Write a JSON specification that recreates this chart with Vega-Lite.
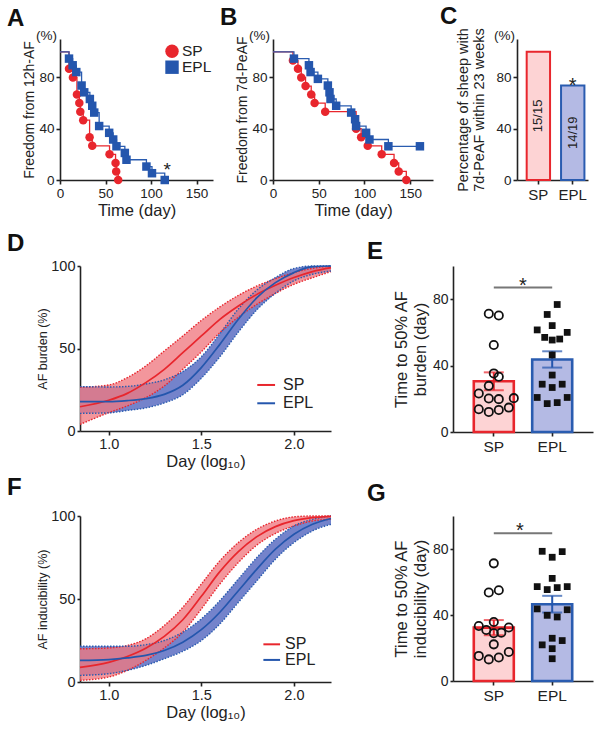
{
 "$schema": "https://vega.github.io/schema/vega-lite/v6.json",
 "padding": {"left": 5, "top": 4, "right": 4, "bottom": 4},
 "background": "white",
 "spacing": 13,
 "config": {
  "font": "Liberation Sans",
  "view": {"stroke": null},
  "axis": {"domainColor": "#222", "domainWidth": 1.6, "tickColor": "#222", "tickWidth": 1.6, "tickSize": 4, "labelColor": "#222", "titleColor": "#222", "titleFontWeight": "normal", "grid": false, "labelPadding": 2, "titlePadding": 3, "labelFlush": false, "labelOverlap": false, "labelFontSize": 14, "titleFontSize": 15},
  "title": {"color": "#111", "fontWeight": "bold", "fontSize": 24, "anchor": "start", "frame": "group", "baseline": "alphabetic"}
 },
 "datasets": {
  "kmA": [
   {"g":"SP","t":0,"s":100},{"g":"SP","t":9.9,"s":86.7},{"g":"SP","t":14.2,"s":80},{"g":"SP","t":18.6,"s":66.7},{"g":"SP","t":21.2,"s":60},{"g":"SP","t":22.3,"s":53.3},{"g":"SP","t":25.5,"s":46.7},{"g":"SP","t":32.5,"s":33.3},{"g":"SP","t":35.4,"s":26.7},{"g":"SP","t":54.4,"s":20},{"g":"SP","t":61,"s":13.3},{"g":"SP","t":61.7,"s":6.7},{"g":"SP","t":63.9,"s":0},
   {"g":"EPL","t":0,"s":100},{"g":"EPL","t":9.9,"s":94.7},{"g":"EPL","t":13.9,"s":89.5},{"g":"EPL","t":17.9,"s":84.2},{"g":"EPL","t":23.7,"s":73.7},{"g":"EPL","t":26.6,"s":68.4},{"g":"EPL","t":32.8,"s":63.2},{"g":"EPL","t":35.4,"s":57.9},{"g":"EPL","t":37.6,"s":52.6},{"g":"EPL","t":43,"s":42.1},{"g":"EPL","t":54,"s":36.8},{"g":"EPL","t":58.4,"s":31.6},{"g":"EPL","t":62,"s":26.3},{"g":"EPL","t":71.2,"s":21.1},{"g":"EPL","t":73,"s":15.8},{"g":"EPL","t":94.9,"s":10.5},{"g":"EPL","t":101,"s":5.3},{"g":"EPL","t":115,"s":0}
  ],
  "kmB": [
   {"g":"SP","t":0,"s":100},{"g":"SP","t":21.8,"s":93.3},{"g":"SP","t":27.3,"s":86.7},{"g":"SP","t":30.9,"s":80},{"g":"SP","t":35.6,"s":73.3},{"g":"SP","t":41.8,"s":66.7},{"g":"SP","t":45.5,"s":60},{"g":"SP","t":57.1,"s":53.3},{"g":"SP","t":90.9,"s":40},{"g":"SP","t":96.4,"s":33.3},{"g":"SP","t":103.6,"s":26.7},{"g":"SP","t":118.9,"s":20},{"g":"SP","t":132.4,"s":13.3},{"g":"SP","t":137.5,"s":6.7},{"g":"SP","t":145.8,"s":0},
   {"g":"EPL","t":0,"s":100},{"g":"EPL","t":22.9,"s":94.7},{"g":"EPL","t":39.3,"s":89.5},{"g":"EPL","t":41.1,"s":84.2},{"g":"EPL","t":49.1,"s":78.9},{"g":"EPL","t":60,"s":73.7},{"g":"EPL","t":61.8,"s":68.4},{"g":"EPL","t":62.9,"s":63.2},{"g":"EPL","t":69.1,"s":57.9},{"g":"EPL","t":85.5,"s":52.6},{"g":"EPL","t":89.8,"s":47.4},{"g":"EPL","t":90.9,"s":42.1},{"g":"EPL","t":101.8,"s":36.8},{"g":"EPL","t":105.5,"s":31.6},{"g":"EPL","t":126.2,"s":26.3},{"g":"EPL","t":160.7,"s":26.3}
  ],
  "curD": [
   {"g":"SP","x":0.845,"fit":14.7,"lo":4,"hi":26.5},{"g":"SP","x":1.0,"fit":18.6,"lo":11.1,"hi":27.9},{"g":"SP","x":1.1,"fit":22.8,"lo":15.2,"hi":32.3},{"g":"SP","x":1.2,"fit":29.3,"lo":20.2,"hi":39.4},{"g":"SP","x":1.3,"fit":37.4,"lo":27.3,"hi":48.5},{"g":"SP","x":1.4,"fit":47.5,"lo":37.4,"hi":57.6},{"g":"SP","x":1.5,"fit":57.6,"lo":48,"hi":67},{"g":"SP","x":1.6,"fit":67.7,"lo":59.6,"hi":75.2},{"g":"SP","x":1.7,"fit":75.8,"lo":69,"hi":82.2},{"g":"SP","x":1.8,"fit":82.8,"lo":76.8,"hi":87.9},{"g":"SP","x":1.9,"fit":88.3,"lo":83.4,"hi":92.3},{"g":"SP","x":2.0,"fit":93,"lo":88.9,"hi":96},{"g":"SP","x":2.1,"fit":96.6,"lo":92.9,"hi":98.6},{"g":"SP","x":2.2,"fit":99,"lo":96.6,"hi":100},
   {"g":"EPL","x":0.845,"fit":17.8,"lo":10.7,"hi":26.9},{"g":"EPL","x":1.0,"fit":17.8,"lo":11,"hi":26.7},{"g":"EPL","x":1.1,"fit":18.4,"lo":12.5,"hi":27},{"g":"EPL","x":1.2,"fit":19.6,"lo":14,"hi":28.5},{"g":"EPL","x":1.3,"fit":22.2,"lo":17,"hi":31},{"g":"EPL","x":1.4,"fit":27.7,"lo":22,"hi":36},{"g":"EPL","x":1.5,"fit":38.4,"lo":32,"hi":45},{"g":"EPL","x":1.6,"fit":52.5,"lo":45,"hi":59},{"g":"EPL","x":1.7,"fit":67.7,"lo":60,"hi":74},{"g":"EPL","x":1.8,"fit":80.8,"lo":73.5,"hi":85.5},{"g":"EPL","x":1.9,"fit":89.9,"lo":83.5,"hi":93},{"g":"EPL","x":2.0,"fit":96,"lo":91,"hi":98.5},{"g":"EPL","x":2.1,"fit":99.6,"lo":95,"hi":100},{"g":"EPL","x":2.2,"fit":100,"lo":97,"hi":100}
  ],
  "curF": [
   {"g":"SP","x":0.845,"fit":8.8,"lo":1,"hi":20},{"g":"SP","x":1.0,"fit":11.8,"lo":3,"hi":20.5},{"g":"SP","x":1.1,"fit":15.4,"lo":7,"hi":22},{"g":"SP","x":1.2,"fit":20.4,"lo":13,"hi":26},{"g":"SP","x":1.3,"fit":27.5,"lo":20.5,"hi":34},{"g":"SP","x":1.4,"fit":37.5,"lo":30,"hi":45},{"g":"SP","x":1.5,"fit":51.6,"lo":44,"hi":59},{"g":"SP","x":1.6,"fit":66.5,"lo":59,"hi":73},{"g":"SP","x":1.7,"fit":78.6,"lo":72,"hi":84},{"g":"SP","x":1.8,"fit":87.6,"lo":82.5,"hi":92},{"g":"SP","x":1.9,"fit":93.6,"lo":89.5,"hi":97},{"g":"SP","x":2.0,"fit":97.2,"lo":94,"hi":99.5},{"g":"SP","x":2.1,"fit":99,"lo":97,"hi":100},{"g":"SP","x":2.2,"fit":99.8,"lo":98,"hi":100},
   {"g":"EPL","x":0.845,"fit":13,"lo":4,"hi":21.5},{"g":"EPL","x":1.0,"fit":13.5,"lo":5,"hi":21.5},{"g":"EPL","x":1.1,"fit":14.5,"lo":7,"hi":21.5},{"g":"EPL","x":1.2,"fit":16,"lo":10,"hi":22.5},{"g":"EPL","x":1.3,"fit":19,"lo":14,"hi":25},{"g":"EPL","x":1.4,"fit":24,"lo":18.5,"hi":30},{"g":"EPL","x":1.5,"fit":31.5,"lo":25,"hi":38},{"g":"EPL","x":1.6,"fit":42,"lo":35,"hi":49},{"g":"EPL","x":1.7,"fit":55,"lo":48,"hi":62},{"g":"EPL","x":1.8,"fit":68,"lo":61,"hi":75},{"g":"EPL","x":1.9,"fit":80,"lo":74,"hi":86},{"g":"EPL","x":2.0,"fit":89,"lo":84,"hi":94},{"g":"EPL","x":2.1,"fit":95,"lo":91,"hi":98},{"g":"EPL","x":2.2,"fit":98.5,"lo":95,"hi":100}
  ],
  "dotE": [
   {"g":"SP","v":71.2,"slot":6},{"g":"SP","v":70.2,"slot":10},{"g":"SP","v":52.4,"slot":8},{"g":"SP","v":35.3,"slot":8},{"g":"SP","v":33.3,"slot":10},{"g":"SP","v":27.8,"slot":6},{"g":"SP","v":23.2,"slot":2},{"g":"SP","v":20.2,"slot":6},{"g":"SP","v":19.8,"slot":10},{"g":"SP","v":20.4,"slot":16},{"g":"SP","v":13.7,"slot":2},{"g":"SP","v":12.1,"slot":6},{"g":"SP","v":13.3,"slot":10},{"g":"SP","v":14.7,"slot":14},
   {"g":"EPL","v":76.8,"slot":10},{"g":"EPL","v":70.8,"slot":6},{"g":"EPL","v":61.5,"slot":2},{"g":"EPL","v":64.1,"slot":8},{"g":"EPL","v":57,"slot":5},{"g":"EPL","v":55.4,"slot":8},{"g":"EPL","v":56,"slot":11},{"g":"EPL","v":60,"slot":14},{"g":"EPL","v":46.4,"slot":8},{"g":"EPL","v":34.3,"slot":8},{"g":"EPL","v":28.8,"slot":4},{"g":"EPL","v":26.8,"slot":8},{"g":"EPL","v":28.8,"slot":12},{"g":"EPL","v":20.8,"slot":2},{"g":"EPL","v":17.1,"slot":6},{"g":"EPL","v":17.7,"slot":10},{"g":"EPL","v":20.8,"slot":14}
  ],
  "dotG": [
   {"g":"SP","v":71.3,"slot":8},{"g":"SP","v":53.6,"slot":6},{"g":"SP","v":55,"slot":10},{"g":"SP","v":35.8,"slot":8},{"g":"SP","v":33.3,"slot":2},{"g":"SP","v":30.9,"slot":5},{"g":"SP","v":28.9,"slot":8},{"g":"SP","v":29.3,"slot":11},{"g":"SP","v":32.4,"slot":14},{"g":"SP","v":22.2,"slot":8},{"g":"SP","v":15.2,"slot":2},{"g":"SP","v":13.1,"slot":6},{"g":"SP","v":14.2,"slot":10},{"g":"SP","v":17.6,"slot":14},
   {"g":"EPL","v":78.6,"slot":4},{"g":"EPL","v":75,"slot":8},{"g":"EPL","v":78.4,"slot":12},{"g":"EPL","v":62.2,"slot":8},{"g":"EPL","v":57.2,"slot":2},{"g":"EPL","v":55.4,"slot":6},{"g":"EPL","v":56.6,"slot":10},{"g":"EPL","v":57.2,"slot":14},{"g":"EPL","v":43.7,"slot":2},{"g":"EPL","v":43.2,"slot":14},{"g":"EPL","v":39.8,"slot":6},{"g":"EPL","v":38.8,"slot":10},{"g":"EPL","v":25.9,"slot":8},{"g":"EPL","v":24.5,"slot":12},{"g":"EPL","v":21.9,"slot":4},{"g":"EPL","v":19.6,"slot":8},{"g":"EPL","v":13.5,"slot":8}
  ]
 },
 "vconcat": [
  {
   "spacing": 1,
   "hconcat": [
    {"width": 1, "height": 1, "data": {"values": [{"a": 1}]}, "mark": {"type": "point", "opacity": 0, "size": 1}, "encoding": {}},
    {
     "spacing": 7,
     "hconcat": [
      {
       "width": 153, "height": 141,
       "title": {"text": "A", "dx": -53, "offset": -2},
       "layer": [
        {"data": {"name": "kmA"}, "mark": {"type": "line", "interpolate": "step-after", "strokeWidth": 1.3},
         "encoding": {
          "x": {"field": "t", "type": "quantitative", "scale": {"domain": [0, 168], "nice": false, "zero": false}, "axis": {"values": [0, 50, 100, 150], "title": "Time (day)", "labelFontSize": 13.5, "titleFontSize": 16.5, "labelOverlap": false}},
          "y": {"field": "s", "type": "quantitative", "scale": {"domain": [0, 110], "nice": false}, "axis": {"values": [0, 20, 40, 60, 80, 100], "title": "Freedom from 12h-AF", "labelFontSize": 13.5, "titleFontSize": 14, "titlePadding": 2, "labelOverlap": false}},
          "stroke": {"field": "g", "type": "nominal", "scale": {"domain": ["SP", "EPL"], "range": ["#e8262d", "#2a5cb0"]}, "legend": null}
         }},
        {"data": {"name": "kmA"}, "transform": [{"filter": "datum.t > 0"}], "mark": {"type": "point", "filled": true, "opacity": 1, "size": 72},
         "encoding": {
          "x": {"field": "t", "type": "quantitative"},
          "y": {"field": "s", "type": "quantitative"},
          "color": {"field": "g", "type": "nominal", "scale": {"domain": ["SP", "EPL"], "range": ["#e8262d", "#2456ad"]}, "legend": null},
          "shape": {"field": "g", "type": "nominal", "scale": {"domain": ["SP", "EPL"], "range": ["circle", "square"]}, "legend": null}
         }},
        {"data": {"values": [{"lab": "SP"}]}, "mark": {"type": "point", "shape": "circle", "filled": true, "opacity": 1, "size": 180, "color": "#e8262d"},
         "encoding": {"x": {"datum": 123, "type": "quantitative"}, "y": {"datum": 100.5, "type": "quantitative"}}},
        {"data": {"values": [{"lab": "EPL"}]}, "mark": {"type": "square", "opacity": 1, "size": 180, "color": "#2456ad"},
         "encoding": {"x": {"datum": 123, "type": "quantitative"}, "y": {"datum": 88, "type": "quantitative"}}},
        {"data": {"values": [{"lab": "SP"}]}, "mark": {"type": "text", "align": "left", "baseline": "middle", "dx": 10, "fontSize": 15.5, "color": "#222"},
         "encoding": {"x": {"datum": 123, "type": "quantitative"}, "y": {"datum": 100.5, "type": "quantitative"}, "text": {"field": "lab"}}},
        {"data": {"values": [{"lab": "EPL"}]}, "mark": {"type": "text", "align": "left", "baseline": "middle", "dx": 10, "fontSize": 15.5, "color": "#222"},
         "encoding": {"x": {"datum": 123, "type": "quantitative"}, "y": {"datum": 88, "type": "quantitative"}, "text": {"field": "lab"}}},
        {"data": {"values": [{"t": 117.8, "s": 11, "lab": "*"}]}, "mark": {"type": "text", "fontSize": 19, "dy": 10, "baseline": "alphabetic", "color": "#222"},
         "encoding": {"x": {"field": "t", "type": "quantitative"}, "y": {"field": "s", "type": "quantitative"}, "text": {"field": "lab"}}},
        {"data": {"values": [{"lab": "(%)"}]}, "mark": {"type": "text", "align": "right", "baseline": "alphabetic", "dx": -3, "dy": 1, "fontSize": 13.5, "color": "#222"},
         "encoding": {"x": {"datum": 0, "type": "quantitative"}, "y": {"datum": 110, "type": "quantitative"}, "text": {"field": "lab"}}}
       ]
      },
      {
       "width": 160, "height": 141,
       "title": {"text": "B", "dx": -53, "offset": -1},
       "layer": [
        {"data": {"name": "kmB"}, "mark": {"type": "line", "interpolate": "step-after", "strokeWidth": 1.3},
         "encoding": {
          "x": {"field": "t", "type": "quantitative", "scale": {"domain": [0, 175], "nice": false, "zero": false}, "axis": {"values": [0, 50, 100, 150], "title": "Time (day)", "labelFontSize": 13.5, "titleFontSize": 16.5, "labelOverlap": false}},
          "y": {"field": "s", "type": "quantitative", "scale": {"domain": [0, 110], "nice": false}, "axis": {"values": [0, 20, 40, 60, 80, 100], "title": "Freedom from 7d-PeAF", "labelFontSize": 13.5, "titleFontSize": 14, "titlePadding": 2, "labelOverlap": false}},
          "stroke": {"field": "g", "type": "nominal", "scale": {"domain": ["SP", "EPL"], "range": ["#e8262d", "#2a5cb0"]}, "legend": null}
         }},
        {"data": {"name": "kmB"}, "transform": [{"filter": "datum.t > 0"}], "mark": {"type": "point", "filled": true, "opacity": 1, "size": 72},
         "encoding": {
          "x": {"field": "t", "type": "quantitative"},
          "y": {"field": "s", "type": "quantitative"},
          "color": {"field": "g", "type": "nominal", "scale": {"domain": ["SP", "EPL"], "range": ["#e8262d", "#2456ad"]}, "legend": null},
          "shape": {"field": "g", "type": "nominal", "scale": {"domain": ["SP", "EPL"], "range": ["circle", "square"]}, "legend": null}
         }},
        {"data": {"values": [{"lab": "(%)"}]}, "mark": {"type": "text", "align": "right", "baseline": "alphabetic", "dx": -3, "dy": 1, "fontSize": 13.5, "color": "#222"},
         "encoding": {"x": {"datum": 0, "type": "quantitative"}, "y": {"datum": 110, "type": "quantitative"}, "text": {"field": "lab"}}}
       ]
      },
      {
       "width": 71, "height": 141,
       "title": {"text": "C", "dx": -77, "offset": -1},
       "data": {"values": [{"g": "SP", "pct": 100, "lab": "15/15"}, {"g": "EPL", "pct": 73.7, "lab": "14/19"}]},
       "layer": [
        {"mark": {"type": "bar", "strokeWidth": 2, "width": {"band": 1}},
         "encoding": {
          "x": {"field": "g", "type": "nominal", "sort": ["SP", "EPL"], "scale": {"type": "band", "domain": ["SP", "EPL"], "paddingInner": 0.32, "paddingOuter": 0.193, "align": 0.73}, "axis": {"title": null, "labelAngle": 0, "labelFontSize": 15, "labelPadding": 3}},
          "y": {"field": "pct", "type": "quantitative", "scale": {"domain": [0, 110], "nice": false}, "axis": {"values": [0, 20, 40, 60, 80, 100], "title": ["Percentage of sheep with", "7d-PeAF within 23 weeks"], "titleFontSize": 14.5, "labelFontSize": 13.5, "titlePadding": 9, "labelOverlap": false}},
          "fill": {"field": "g", "type": "nominal", "scale": {"domain": ["SP", "EPL"], "range": ["#fdd3d4", "#b4bae4"]}, "legend": null},
          "stroke": {"field": "g", "type": "nominal", "scale": {"domain": ["SP", "EPL"], "range": ["#e8303a", "#2c56a8"]}, "legend": null}
         }},
        {"transform": [{"calculate": "datum.pct / 2", "as": "mid"}], "mark": {"type": "text", "angle": 270, "fontSize": 13, "color": "#222", "baseline": "middle", "align": "center"},
         "encoding": {"x": {"field": "g", "type": "nominal", "sort": ["SP", "EPL"]}, "y": {"field": "mid", "type": "quantitative"}, "text": {"field": "lab"}}},
        {"transform": [{"filter": "datum.g == 'EPL'"}], "mark": {"type": "text", "text": "*", "fontSize": 20, "dy": 6, "baseline": "alphabetic", "color": "#222"},
         "encoding": {"x": {"field": "g", "type": "nominal", "sort": ["SP", "EPL"]}, "y": {"field": "pct", "type": "quantitative"}}},
        {"data": {"values": [{"lab": "(%)"}]}, "mark": {"type": "text", "align": "right", "baseline": "alphabetic", "dx": -2, "dy": 1, "fontSize": 13.5, "color": "#222"},
         "encoding": {"x": {"value": 0}, "y": {"datum": 110, "type": "quantitative"}, "text": {"field": "lab"}}}
       ]
      }
     ]
    }
   ]
  },
  {
   "spacing": 6,
   "vconcat": [
    {
     "spacing": 1,
     "hconcat": [
      {"width": 1, "height": 1, "data": {"values": [{"a": 1}]}, "mark": {"type": "point", "opacity": 0, "size": 1}, "encoding": {}},
      {
       "spacing": 32,
       "hconcat": [
        {
         "width": 251, "height": 165,
         "title": {"text": "D", "dx": -73, "offset": 2},
         "data": {"name": "curD"},
         "layer": [
          {"transform": [{"filter": "datum.g == 'EPL'"}], "mark": {"type": "area", "interpolate": "monotone", "opacity": 0.95, "color": "#6d7cc8"},
           "encoding": {
            "x": {"field": "x", "type": "quantitative", "scale": {"domain": [0.845, 2.2], "nice": false, "zero": false}, "axis": {"values": [1, 1.5, 2], "format": ".1f", "title": "Day (log₁₀)", "titleFontSize": 16.5, "labelFontSize": 14.5}},
            "y": {"field": "hi", "type": "quantitative", "scale": {"domain": [0, 100], "nice": false}, "axis": {"values": [0, 50, 100], "title": "AF burden (%)", "titleFontSize": 12.5, "labelFontSize": 14.5, "titlePadding": 1, "tickSize": 3}},
            "y2": {"field": "lo"}
           }},
          {"transform": [{"filter": "datum.g == 'SP'"}], "mark": {"type": "area", "interpolate": "monotone", "opacity": 0.78, "color": "#f07880"},
           "encoding": {"x": {"field": "x", "type": "quantitative"}, "y": {"field": "hi", "type": "quantitative"}, "y2": {"field": "lo"}}},
          {"mark": {"type": "line", "interpolate": "monotone", "strokeDash": [1.5, 1.5], "strokeWidth": 1.4},
           "encoding": {"x": {"field": "x", "type": "quantitative"}, "y": {"field": "lo", "type": "quantitative"}, "stroke": {"field": "g", "type": "nominal", "scale": {"domain": ["SP", "EPL"], "range": ["#c8283a", "#2b3a92"]}, "legend": null}}},
          {"mark": {"type": "line", "interpolate": "monotone", "strokeDash": [1.5, 1.5], "strokeWidth": 1.4},
           "encoding": {"x": {"field": "x", "type": "quantitative"}, "y": {"field": "hi", "type": "quantitative"}, "stroke": {"field": "g", "type": "nominal", "scale": {"domain": ["SP", "EPL"], "range": ["#c8283a", "#2b3a92"]}, "legend": null}}},
          {"mark": {"type": "line", "interpolate": "monotone", "strokeWidth": 1.7},
           "encoding": {"x": {"field": "x", "type": "quantitative"}, "y": {"field": "fit", "type": "quantitative"}, "color": {"field": "g", "type": "nominal", "scale": {"domain": ["SP", "EPL"], "range": ["#e8262d", "#2456ad"]}, "legend": null}}},
          {"data": {"values": [{"lab": "SP"}]}, "mark": {"type": "rule", "color": "#e8262d", "strokeWidth": 2},
           "encoding": {"x": {"datum": 1.802, "type": "quantitative"}, "x2": {"datum": 1.898}, "y": {"datum": 27.9, "type": "quantitative"}}},
          {"data": {"values": [{"lab": "EPL"}]}, "mark": {"type": "rule", "color": "#2456ad", "strokeWidth": 2},
           "encoding": {"x": {"datum": 1.802, "type": "quantitative"}, "x2": {"datum": 1.898}, "y": {"datum": 16.8, "type": "quantitative"}}},
          {"data": {"values": [{"lab": "SP"}]}, "mark": {"type": "text", "align": "left", "baseline": "middle", "fontSize": 16, "color": "#222"},
           "encoding": {"x": {"datum": 1.941, "type": "quantitative"}, "y": {"datum": 27.9, "type": "quantitative"}, "text": {"field": "lab"}}},
          {"data": {"values": [{"lab": "EPL"}]}, "mark": {"type": "text", "align": "left", "baseline": "middle", "fontSize": 16, "color": "#222"},
           "encoding": {"x": {"datum": 1.941, "type": "quantitative"}, "y": {"datum": 16.8, "type": "quantitative"}, "text": {"field": "lab"}}}
         ]
        },
        {
         "width": 140, "height": 166,
         "title": {"text": "E", "dx": -86, "offset": 2},
         "data": {"name": "dotE"},
         "resolve": {"scale": {"xOffset": "independent"}},
         "layer": [
          {"mark": {"type": "bar", "strokeWidth": 2.6, "width": {"band": 1}},
           "encoding": {
            "x": {"field": "g", "type": "nominal", "sort": ["SP", "EPL"], "scale": {"type": "band", "domain": ["SP", "EPL"], "paddingInner": 0.315, "paddingOuter": 0.356}, "axis": {"title": null, "labelAngle": 0, "labelFontSize": 15.5, "labelPadding": 3}},
            "y": {"aggregate": "mean", "field": "v", "type": "quantitative", "scale": {"domain": [0, 100], "nice": false}, "axis": {"values": [0, 20, 40, 60, 80, 100], "title": ["Time to 50% AF", "burden (day)"], "titleFontSize": 16.5, "labelFontSize": 14, "titlePadding": 4, "tickSize": 3, "labelOverlap": false}},
            "fill": {"field": "g", "type": "nominal", "scale": {"domain": ["SP", "EPL"], "range": ["#facbc1", "#c3c8e8"]}, "legend": null},
            "stroke": {"field": "g", "type": "nominal", "scale": {"domain": ["SP", "EPL"], "range": ["#e63a40", "#2555a8"]}, "legend": null}
           }},
          {"mark": {"type": "errorbar", "extent": "stderr", "ticks": true, "size": 20, "thickness": 2},
           "encoding": {"x": {"field": "g", "type": "nominal", "sort": ["SP", "EPL"], "title": null}, "y": {"field": "v", "type": "quantitative", "title": ["Time to 50% AF", "burden (day)"]}, "color": {"field": "g", "type": "nominal", "scale": {"domain": ["SP", "EPL"], "range": ["#e63a40", "#2555a8"]}, "legend": null}}},
          {"transform": [{"filter": "datum.g == 'SP'"}], "mark": {"type": "point", "shape": "circle", "filled": false, "strokeWidth": 1.8, "size": 68, "color": "#111", "opacity": 1},
           "encoding": {"x": {"field": "g", "type": "nominal", "sort": ["SP", "EPL"]}, "xOffset": {"field": "slot", "type": "quantitative", "scale": {"domain": [0, 16]}}, "y": {"field": "v", "type": "quantitative"}}},
          {"transform": [{"filter": "datum.g == 'EPL'"}], "mark": {"type": "square", "size": 46, "color": "#111", "opacity": 1},
           "encoding": {"x": {"field": "g", "type": "nominal", "sort": ["SP", "EPL"]}, "xOffset": {"field": "slot", "type": "quantitative", "scale": {"domain": [0, 16]}}, "y": {"field": "v", "type": "quantitative"}}},
          {"data": {"values": [{"a": "SP", "b": "EPL", "y": 87, "lab": "*"}]}, "mark": {"type": "rule", "color": "#777", "strokeWidth": 2},
           "encoding": {"x": {"field": "a", "type": "nominal", "sort": ["SP", "EPL"]}, "x2": {"field": "b"}, "y": {"field": "y", "type": "quantitative"}}},
          {"data": {"values": [{"a": "SP", "b": "EPL", "y": 87, "lab": "*"}]}, "mark": {"type": "text", "fontSize": 20, "dx": 29, "dy": 4, "baseline": "alphabetic", "color": "#222"},
           "encoding": {"x": {"field": "a", "type": "nominal", "sort": ["SP", "EPL"]}, "y": {"field": "y", "type": "quantitative"}, "text": {"field": "lab"}}}
         ]
        }
       ]
      }
     ]
    },
    {
     "spacing": 1,
     "hconcat": [
      {"width": 1, "height": 1, "data": {"values": [{"a": 1}]}, "mark": {"type": "point", "opacity": 0, "size": 1}, "encoding": {}},
      {
       "spacing": 32,
       "hconcat": [
        {
         "width": 251, "height": 166,
         "title": {"text": "F", "dx": -73, "offset": 8},
         "data": {"name": "curF"},
         "layer": [
          {"transform": [{"filter": "datum.g == 'EPL'"}], "mark": {"type": "area", "interpolate": "monotone", "opacity": 0.95, "color": "#6d7cc8"},
           "encoding": {
            "x": {"field": "x", "type": "quantitative", "scale": {"domain": [0.845, 2.2], "nice": false, "zero": false}, "axis": {"values": [1, 1.5, 2], "format": ".1f", "title": "Day (log₁₀)", "titleFontSize": 16.5, "labelFontSize": 14.5}},
            "y": {"field": "hi", "type": "quantitative", "scale": {"domain": [0, 100], "nice": false}, "axis": {"values": [0, 50, 100], "title": "AF inducibility (%)", "titleFontSize": 12.5, "labelFontSize": 14.5, "titlePadding": 1, "tickSize": 3}},
            "y2": {"field": "lo"}
           }},
          {"transform": [{"filter": "datum.g == 'SP'"}], "mark": {"type": "area", "interpolate": "monotone", "opacity": 0.78, "color": "#f07880"},
           "encoding": {"x": {"field": "x", "type": "quantitative"}, "y": {"field": "hi", "type": "quantitative"}, "y2": {"field": "lo"}}},
          {"mark": {"type": "line", "interpolate": "monotone", "strokeDash": [1.5, 1.5], "strokeWidth": 1.4},
           "encoding": {"x": {"field": "x", "type": "quantitative"}, "y": {"field": "lo", "type": "quantitative"}, "stroke": {"field": "g", "type": "nominal", "scale": {"domain": ["SP", "EPL"], "range": ["#c8283a", "#2b3a92"]}, "legend": null}}},
          {"mark": {"type": "line", "interpolate": "monotone", "strokeDash": [1.5, 1.5], "strokeWidth": 1.4},
           "encoding": {"x": {"field": "x", "type": "quantitative"}, "y": {"field": "hi", "type": "quantitative"}, "stroke": {"field": "g", "type": "nominal", "scale": {"domain": ["SP", "EPL"], "range": ["#c8283a", "#2b3a92"]}, "legend": null}}},
          {"mark": {"type": "line", "interpolate": "monotone", "strokeWidth": 1.7},
           "encoding": {"x": {"field": "x", "type": "quantitative"}, "y": {"field": "fit", "type": "quantitative"}, "color": {"field": "g", "type": "nominal", "scale": {"domain": ["SP", "EPL"], "range": ["#e8262d", "#2456ad"]}, "legend": null}}},
          {"data": {"values": [{"lab": "SP"}]}, "mark": {"type": "rule", "color": "#e8262d", "strokeWidth": 2},
           "encoding": {"x": {"datum": 1.835, "type": "quantitative"}, "x2": {"datum": 1.925}, "y": {"datum": 22.7, "type": "quantitative"}}},
          {"data": {"values": [{"lab": "EPL"}]}, "mark": {"type": "rule", "color": "#2456ad", "strokeWidth": 2},
           "encoding": {"x": {"datum": 1.835, "type": "quantitative"}, "x2": {"datum": 1.925}, "y": {"datum": 13.3, "type": "quantitative"}}},
          {"data": {"values": [{"lab": "SP"}]}, "mark": {"type": "text", "align": "left", "baseline": "middle", "fontSize": 16, "color": "#222"},
           "encoding": {"x": {"datum": 1.952, "type": "quantitative"}, "y": {"datum": 22.7, "type": "quantitative"}, "text": {"field": "lab"}}},
          {"data": {"values": [{"lab": "EPL"}]}, "mark": {"type": "text", "align": "left", "baseline": "middle", "fontSize": 16, "color": "#222"},
           "encoding": {"x": {"datum": 1.952, "type": "quantitative"}, "y": {"datum": 13.3, "type": "quantitative"}, "text": {"field": "lab"}}}
         ]
        },
        {
         "width": 140, "height": 165,
         "title": {"text": "G", "dx": -86, "offset": 10},
         "data": {"name": "dotG"},
         "resolve": {"scale": {"xOffset": "independent"}},
         "layer": [
          {"mark": {"type": "bar", "strokeWidth": 2.6, "width": {"band": 1}},
           "encoding": {
            "x": {"field": "g", "type": "nominal", "sort": ["SP", "EPL"], "scale": {"type": "band", "domain": ["SP", "EPL"], "paddingInner": 0.315, "paddingOuter": 0.356}, "axis": {"title": null, "labelAngle": 0, "labelFontSize": 15.5, "labelPadding": 3}},
            "y": {"aggregate": "mean", "field": "v", "type": "quantitative", "scale": {"domain": [0, 100], "nice": false}, "axis": {"values": [0, 20, 40, 60, 80, 100], "title": ["Time to 50% AF", "inducibility (day)"], "titleFontSize": 16.5, "labelFontSize": 14, "titlePadding": 4, "tickSize": 3, "labelOverlap": false}},
            "fill": {"field": "g", "type": "nominal", "scale": {"domain": ["SP", "EPL"], "range": ["#facbc1", "#c3c8e8"]}, "legend": null},
            "stroke": {"field": "g", "type": "nominal", "scale": {"domain": ["SP", "EPL"], "range": ["#e63a40", "#2555a8"]}, "legend": null}
           }},
          {"mark": {"type": "errorbar", "extent": "stderr", "ticks": true, "size": 20, "thickness": 2},
           "encoding": {"x": {"field": "g", "type": "nominal", "sort": ["SP", "EPL"], "title": null}, "y": {"field": "v", "type": "quantitative", "title": ["Time to 50% AF", "inducibility (day)"]}, "color": {"field": "g", "type": "nominal", "scale": {"domain": ["SP", "EPL"], "range": ["#e63a40", "#2555a8"]}, "legend": null}}},
          {"transform": [{"filter": "datum.g == 'SP'"}], "mark": {"type": "point", "shape": "circle", "filled": false, "strokeWidth": 1.8, "size": 68, "color": "#111", "opacity": 1},
           "encoding": {"x": {"field": "g", "type": "nominal", "sort": ["SP", "EPL"]}, "xOffset": {"field": "slot", "type": "quantitative", "scale": {"domain": [0, 16]}}, "y": {"field": "v", "type": "quantitative"}}},
          {"transform": [{"filter": "datum.g == 'EPL'"}], "mark": {"type": "square", "size": 46, "color": "#111", "opacity": 1},
           "encoding": {"x": {"field": "g", "type": "nominal", "sort": ["SP", "EPL"]}, "xOffset": {"field": "slot", "type": "quantitative", "scale": {"domain": [0, 16]}}, "y": {"field": "v", "type": "quantitative"}}},
          {"data": {"values": [{"a": "SP", "b": "EPL", "y": 89.5, "lab": "*"}]}, "mark": {"type": "rule", "color": "#777", "strokeWidth": 2},
           "encoding": {"x": {"field": "a", "type": "nominal", "sort": ["SP", "EPL"]}, "x2": {"field": "b"}, "y": {"field": "y", "type": "quantitative"}}},
          {"data": {"values": [{"a": "SP", "b": "EPL", "y": 89.5, "lab": "*"}]}, "mark": {"type": "text", "fontSize": 20, "dx": 26, "dy": 4, "baseline": "alphabetic", "color": "#222"},
           "encoding": {"x": {"field": "a", "type": "nominal", "sort": ["SP", "EPL"]}, "y": {"field": "y", "type": "quantitative"}, "text": {"field": "lab"}}}
         ]
        }
       ]
      }
     ]
    }
   ]
  }
 ]
}
